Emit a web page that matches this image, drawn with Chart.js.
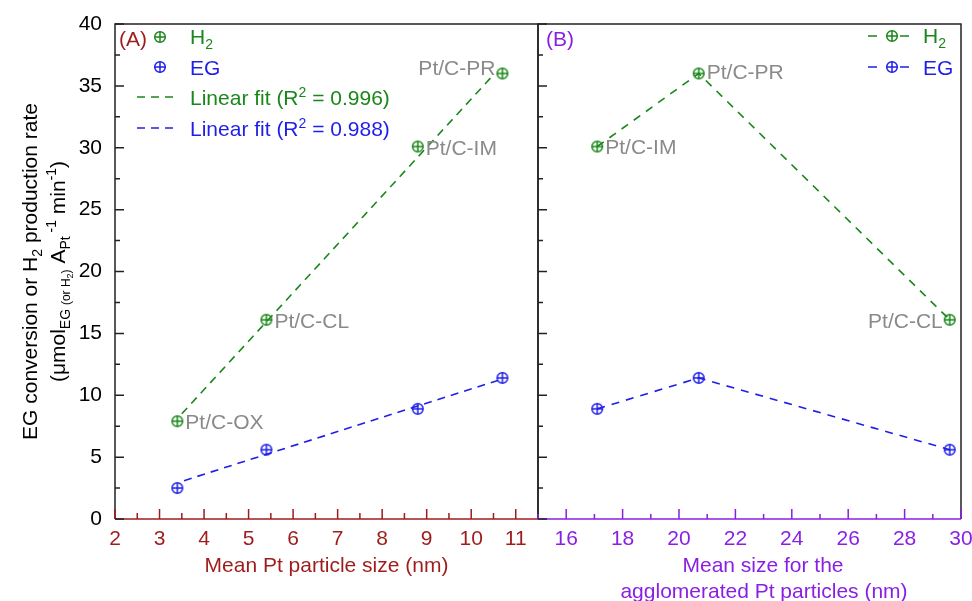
<!DOCTYPE html>
<html>
<head>
<meta charset="utf-8">
<script src="https://cdn.jsdelivr.net/npm/chart.js@4.4.1/dist/chart.umd.min.js"></script>
<style>
  body { margin: 0; background: #fff; }
  #wrap { position: relative; width: 972px; height: 601px; overflow: hidden; }
  #chartA { position: absolute; left: 0; top: 0; }
  #chartB { position: absolute; left: 520px; top: 0; }
</style>
</head>
<body>
<div id="wrap">
  <canvas id="chartA" width="545" height="601"></canvas>
  <canvas id="chartB" width="452" height="601"></canvas>
</div>
<script>
// panel (A): mean Pt particle size
const samplesA = ['Pt/C-OX', 'Pt/C-CL', 'Pt/C-IM', 'Pt/C-PR'];
const sizeA = [3.4, 5.4, 8.8, 10.7];
const h2A = [7.9, 16.1, 30.1, 36.0];
const egA = [2.5, 5.6, 8.9, 11.4];
// linear fit lines (end points)
const fitH2X = [3.5, 10.45];
const fitH2Y = [8.5, 35.7];
const fitEGX = [3.55, 10.6];
const fitEGY = [3.1, 11.2];
const ticksA = [2, 3, 4, 5, 6, 7, 8, 9, 10, 11];

// panel (B): mean size of agglomerated particles
const samplesB = ['Pt/C-IM', 'Pt/C-PR', 'Pt/C-CL'];
const sizeB = [17.1, 20.7, 29.6];
const h2B = [30.1, 36.0, 16.1];
const egB = [8.9, 11.4, 5.6];
const ticksB = [16, 18, 20, 22, 24, 26, 28, 30];

const ticksY = [0, 5, 10, 15, 20, 25, 30, 35, 40];

const FONT = "'Liberation Sans', Arial, sans-serif";
const GREEN = '#1a871a';
const BLUE = '#1f1fe8';
const GREY = '#8a8a8a';
const RED = '#9e1c1c';
const PURPLE = '#8a1fe4';

function plusCircle(color) {
    const c = document.createElement('canvas');
    c.width = 14; c.height = 14;
    const g = c.getContext('2d');
    g.strokeStyle = color;
    g.lineWidth = 1.5;
    g.beginPath(); g.arc(7, 7, 5.3, 0, Math.PI * 2); g.stroke();
    g.beginPath();
    g.moveTo(1.7, 7); g.lineTo(12.3, 7);
    g.moveTo(7, 1.7); g.lineTo(7, 12.3);
    g.stroke();
    return c;
}
const markGreen = plusCircle(GREEN);
const markBlue = plusCircle(BLUE);

const pts = (xs, ys) => xs.map((x, i) => ({ x: x, y: ys[i] }));
const fixedTicks = list => (s => { s.ticks = list.map(v => ({ value: v })); });

// text with sub/superscripts: parts = [text, size, dy]
function drawRich(ctx, parts, x, y, align, color) {
    let w = 0;
    parts.forEach(p => { ctx.font = p[1] + 'px ' + FONT; w += ctx.measureText(p[0]).width; });
    let cx = align === 'center' ? x - w / 2 : x;
    ctx.fillStyle = color;
    ctx.textAlign = 'left';
    ctx.textBaseline = 'alphabetic';
    parts.forEach(p => {
        ctx.font = p[1] + 'px ' + FONT;
        ctx.fillText(p[0], cx, y + p[2]);
        cx += ctx.measureText(p[0]).width;
    });
}

function tickMarks(ctx, scale, from, to, step, len, color, area, vertical) {
    ctx.strokeStyle = color;
    ctx.lineWidth = 1.5;
    ctx.beginPath();
    for (let v = from; v <= to + 1e-9; v += step) {
        const p = scale.getPixelForValue(v);
        if (vertical) { ctx.moveTo(area.left, p); ctx.lineTo(area.left + len, p); }
        else { ctx.moveTo(p, area.bottom); ctx.lineTo(p, area.bottom - len); }
    }
    ctx.stroke();
}

function frame(ctx, a, bottomColor) {
    ctx.lineWidth = 1.5;
    ctx.strokeStyle = '#222';
    ctx.beginPath();
    ctx.moveTo(a.left, a.bottom); ctx.lineTo(a.left, a.top);
    ctx.lineTo(a.right, a.top); ctx.lineTo(a.right, a.bottom);
    ctx.stroke();
    ctx.strokeStyle = bottomColor;
    ctx.beginPath();
    ctx.moveTo(a.left, a.bottom); ctx.lineTo(a.right, a.bottom);
    ctx.stroke();
}

function pointLabels(chart, dsIndex, names, sides, dys) {
    const ctx = chart.ctx;
    const meta = chart.getDatasetMeta(dsIndex);
    ctx.font = '21px ' + FONT;
    ctx.fillStyle = GREY;
    ctx.textBaseline = 'middle';
    meta.data.forEach((el, i) => {
        ctx.textAlign = sides[i] === 'left' ? 'right' : 'left';
        const dx = sides[i] === 'left' ? -7 : 8;
        ctx.fillText(names[i], el.x + dx, el.y + dys[i]);
    });
}

const panelA = {
    id: 'panelA',
    afterDraw(chart) {
        const ctx = chart.ctx, a = chart.chartArea;
        const xs = chart.scales.x, ys = chart.scales.y;
        ctx.save();
        frame(ctx, a, RED);
        tickMarks(ctx, xs, 2, 11, 1, 10, RED, a, false);
        tickMarks(ctx, xs, 2.5, 11, 1, 6, RED, a, false);
        tickMarks(ctx, ys, 0, 40, 5, 9, '#222', a, true);
        tickMarks(ctx, ys, 2.5, 40, 5, 5, '#222', a, true);

        // axis titles
        ctx.font = '21px ' + FONT;
        ctx.fillStyle = RED;
        ctx.textAlign = 'center';
        ctx.textBaseline = 'alphabetic';
        ctx.fillText('Mean Pt particle size (nm)', (a.left + a.right) / 2, 572);

        const cy = (a.top + a.bottom) / 2;
        ctx.save();
        ctx.translate(37, cy);
        ctx.rotate(-Math.PI / 2);
        drawRich(ctx, [['EG conversion or H', 21, 0], ['2', 14, 5], [' production rate', 21, 0]], 0, 0, 'center', '#000');
        ctx.restore();
        ctx.save();
        ctx.translate(65, cy);
        ctx.rotate(-Math.PI / 2);
        drawRich(ctx, [['(\u03bcmol', 21, 0], ['EG ', 14, 5], ['(or H', 12, 5], ['2', 9, 8], [')', 12, 5],
            [' A', 21, 0], ['Pt', 14, 5], [' -1', 14, -9], [' min', 21, 0], ['-1', 14, -9], [')', 21, 0]], 0, 0, 'center', '#000');
        ctx.restore();

        // legend
        ctx.font = '21px ' + FONT;
        ctx.fillStyle = RED;
        ctx.textAlign = 'left';
        ctx.fillText('(A)', 119, 46);
        ctx.drawImage(markGreen, 160 - 7, 37 - 7);
        drawRich(ctx, [['H', 21, 0], ['2', 14, 5]], 190, 44, 'left', GREEN);
        ctx.drawImage(markBlue, 160 - 7, 67 - 7);
        drawRich(ctx, [['EG', 21, 0]], 190, 75, 'left', BLUE);
        ctx.lineWidth = 1.6;
        ctx.setLineDash([8, 6]);
        ctx.strokeStyle = GREEN;
        ctx.beginPath(); ctx.moveTo(137, 97); ctx.lineTo(177, 97); ctx.stroke();
        ctx.strokeStyle = BLUE;
        ctx.beginPath(); ctx.moveTo(137, 128); ctx.lineTo(177, 128); ctx.stroke();
        ctx.setLineDash([]);
        drawRich(ctx, [['Linear fit (R', 21, 0], ['2', 14, -8], [' = 0.996)', 21, 0]], 190, 105, 'left', GREEN);
        drawRich(ctx, [['Linear fit (R', 21, 0], ['2', 14, -8], [' = 0.988)', 21, 0]], 190, 136, 'left', BLUE);

        pointLabels(chart, 0, samplesA, ['right', 'right', 'right', 'left'], [2, 2, 3, -4]);
        ctx.restore();
    }
};

const panelB = {
    id: 'panelB',
    afterDraw(chart) {
        const ctx = chart.ctx, a = chart.chartArea;
        const xs = chart.scales.x, ys = chart.scales.y;
        ctx.save();
        frame(ctx, a, PURPLE);
        tickMarks(ctx, xs, 16, 30, 2, 10, PURPLE, a, false);
        tickMarks(ctx, xs, 15, 30, 2, 5, PURPLE, a, false);
        tickMarks(ctx, ys, 0, 40, 5, 9, '#222', a, true);
        tickMarks(ctx, ys, 2.5, 40, 5, 5, '#222', a, true);

        ctx.font = '21px ' + FONT;
        ctx.fillStyle = PURPLE;
        ctx.textAlign = 'center';
        ctx.textBaseline = 'alphabetic';
        ctx.fillText('Mean size for the', 243, 572);
        ctx.fillText('agglomerated Pt particles (nm)', 244, 598);

        ctx.textAlign = 'left';
        ctx.fillText('(B)', 26, 46);

        // legend
        const rows = [[36, GREEN, markGreen], [67, BLUE, markBlue]];
        rows.forEach(r => {
            ctx.strokeStyle = r[1];
            ctx.lineWidth = 1.6;
            ctx.beginPath();
            ctx.moveTo(348, r[0]); ctx.lineTo(357, r[0]);
            ctx.moveTo(380, r[0]); ctx.lineTo(389, r[0]);
            ctx.stroke();
            ctx.drawImage(r[2], 372 - 7, r[0] - 7);
        });
        drawRich(ctx, [['H', 21, 0], ['2', 14, 5]], 403, 43, 'left', GREEN);
        drawRich(ctx, [['EG', 21, 0]], 403, 75, 'left', BLUE);

        pointLabels(chart, 0, samplesB, ['right', 'right', 'left'], [2, 0, 2]);
        ctx.restore();
    }
};

function tickFont() { return { size: 21, family: FONT }; }

new Chart(document.getElementById('chartA'), {
    type: 'scatter',
    data: {
        datasets: [
            { label: 'H2', data: pts(sizeA, h2A), pointStyle: markGreen, showLine: false },
            { label: 'EG', data: pts(sizeA, egA), pointStyle: markBlue, showLine: false },
            { label: 'Linear fit H2', data: pts(fitH2X, fitH2Y), showLine: true, pointRadius: 0,
              borderColor: GREEN, borderWidth: 1.6, borderDash: [8, 6] },
            { label: 'Linear fit EG', data: pts(fitEGX, fitEGY), showLine: true, pointRadius: 0,
              borderColor: BLUE, borderWidth: 1.6, borderDash: [8, 6] }
        ]
    },
    options: {
        responsive: false,
        animation: false,
        layout: { padding: { top: 24, right: 7, left: 0, bottom: 0 } },
        plugins: { legend: { display: false }, tooltip: { enabled: false } },
        scales: {
            x: {
                type: 'linear', min: 2, max: 11.5,
                afterBuildTicks: fixedTicks(ticksA),
                ticks: { color: RED, font: tickFont(), padding: 8, maxRotation: 0, autoSkip: false },
                grid: { display: false, drawTicks: false },
                border: { display: false },
                afterFit: s => { s.height = 82; s.paddingLeft = 0; s.paddingRight = 0; }
            },
            y: {
                min: 0, max: 40,
                afterBuildTicks: fixedTicks(ticksY),
                ticks: { color: '#000', font: tickFont(), padding: 13 },
                grid: { display: false, drawTicks: false },
                border: { display: false },
                afterFit: s => { s.width = 115; s.paddingTop = 0; s.paddingBottom = 0; }
            }
        }
    },
    plugins: [panelA]
});

new Chart(document.getElementById('chartB'), {
    type: 'scatter',
    data: {
        datasets: [
            { label: 'H2', data: pts(sizeB, h2B), pointStyle: markGreen, showLine: true,
              borderColor: GREEN, borderWidth: 1.6, borderDash: [8, 7] },
            { label: 'EG', data: pts(sizeB, egB), pointStyle: markBlue, showLine: true,
              borderColor: BLUE, borderWidth: 1.6, borderDash: [8, 7] }
        ]
    },
    options: {
        responsive: false,
        animation: false,
        layout: { padding: { top: 24, right: 11, left: 0, bottom: 0 } },
        plugins: { legend: { display: false }, tooltip: { enabled: false } },
        scales: {
            x: {
                type: 'linear', min: 15, max: 30,
                afterBuildTicks: fixedTicks(ticksB),
                ticks: { color: PURPLE, font: tickFont(), padding: 8, maxRotation: 0, autoSkip: false },
                grid: { display: false, drawTicks: false },
                border: { display: false },
                afterFit: s => { s.height = 82; s.paddingLeft = 0; s.paddingRight = 0; }
            },
            y: {
                min: 0, max: 40,
                afterBuildTicks: fixedTicks(ticksY),
                ticks: { display: false },
                grid: { display: false, drawTicks: false },
                border: { display: false },
                afterFit: s => { s.width = 18; s.paddingTop = 0; s.paddingBottom = 0; }
            }
        }
    },
    plugins: [panelB]
});
</script>
</body>
</html>
